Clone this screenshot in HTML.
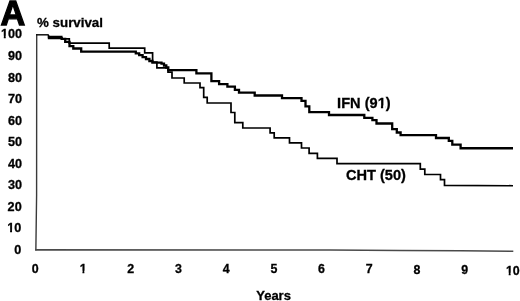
<!DOCTYPE html>
<html>
<head>
<meta charset="utf-8">
<title>Kaplan-Meier survival: IFN vs CHT</title>
<style>
html,body{margin:0;padding:0;background:#fff;}
body{width:520px;height:301px;overflow:hidden;}
svg{display:block;will-change:transform;}
text{font-family:"Liberation Sans",sans-serif;font-weight:bold;fill:#000;stroke:#000;stroke-width:0.3px;}
</style>
</head>
<body>
<svg width="520" height="301" viewBox="0 0 520 301">
<rect width="520" height="301" fill="#fff"/>
<text style="stroke-width:1.3px" transform="translate(0.60,24.60) scale(0.965,1)" font-size="35.5">A</text>
<text transform="translate(37.10,27.00) scale(1,1)" font-size="13.3">% survival</text>
<text transform="translate(22.05,38.00) scale(0.96,1.0)" font-size="13.2" text-anchor="end">100</text>
<text transform="translate(22.05,60.00) scale(0.96,1.0)" font-size="13.2" text-anchor="end">90</text>
<text transform="translate(22.05,82.00) scale(0.96,1.0)" font-size="13.2" text-anchor="end">80</text>
<text transform="translate(22.05,103.00) scale(0.96,1.0)" font-size="13.2" text-anchor="end">70</text>
<text transform="translate(22.05,125.00) scale(0.96,1.0)" font-size="13.2" text-anchor="end">60</text>
<text transform="translate(22.05,146.00) scale(0.96,1.0)" font-size="13.2" text-anchor="end">50</text>
<text transform="translate(22.05,168.00) scale(0.96,1.0)" font-size="13.2" text-anchor="end">40</text>
<text transform="translate(22.05,189.00) scale(0.96,1.0)" font-size="13.2" text-anchor="end">30</text>
<text transform="translate(21.70,211.00) scale(0.96,1.0)" font-size="13.2" text-anchor="end">20</text>
<text transform="translate(21.30,232.00) scale(0.96,1.0)" font-size="13.2" text-anchor="end">10</text>
<text transform="translate(21.20,254.00) scale(0.96,1.0)" font-size="13.2" text-anchor="end">0</text>
<text transform="translate(35.25,273.00) scale(0.94,1.0)" font-size="13.2" text-anchor="middle">0</text>
<text transform="translate(83.10,273.00) scale(0.94,1.0)" font-size="13.2" text-anchor="middle">1</text>
<text transform="translate(130.69,273.00) scale(0.94,1.0)" font-size="13.2" text-anchor="middle">2</text>
<text transform="translate(178.41,273.00) scale(0.94,1.0)" font-size="13.2" text-anchor="middle">3</text>
<text transform="translate(226.13,273.00) scale(0.94,1.0)" font-size="13.2" text-anchor="middle">4</text>
<text transform="translate(273.85,273.00) scale(0.94,1.0)" font-size="13.2" text-anchor="middle">5</text>
<text transform="translate(321.57,273.00) scale(0.94,1.0)" font-size="13.2" text-anchor="middle">6</text>
<text transform="translate(369.29,273.00) scale(0.94,1.0)" font-size="13.2" text-anchor="middle">7</text>
<text transform="translate(417.01,274.00) scale(0.94,1.0)" font-size="13.2" text-anchor="middle">8</text>
<text transform="translate(464.73,274.00) scale(0.94,1.0)" font-size="13.2" text-anchor="middle">9</text>
<text transform="translate(512.80,275.00) scale(0.94,1.0)" font-size="13.2" text-anchor="middle">10</text>
<text transform="translate(256.20,300.00) scale(1,1)" font-size="13.0">Years</text>
<text transform="translate(337.10,108.00) scale(1,1.03)" font-size="14.6">IFN (91)</text>
<text transform="translate(345.90,180.00) scale(1,1.03)" font-size="14.6">CHT (50)</text>
<!-- hide foot of 1 -->
<g transform="translate(22.05,38.00) scale(0.96,1.0)"><rect x="-22.17" y="-2.25" width="3.13" height="3.75" fill="#fff"/><rect x="-16.99" y="-2.25" width="2.96" height="3.75" fill="#fff"/></g>
<g transform="translate(21.30,232.00) scale(0.96,1.0)"><rect x="-14.83" y="-2.25" width="3.13" height="3.75" fill="#fff"/><rect x="-9.65" y="-2.25" width="2.96" height="3.75" fill="#fff"/></g>
<g transform="translate(83.10,273.00) scale(0.94,1.0)"><rect x="-3.84" y="-2.25" width="3.13" height="3.75" fill="#fff"/><rect x="1.34" y="-2.25" width="2.96" height="3.75" fill="#fff"/></g>
<g transform="translate(512.80,275.00) scale(0.94,1.0)"><rect x="-7.50" y="-2.25" width="3.13" height="3.75" fill="#fff"/><rect x="-2.32" y="-2.25" width="2.96" height="3.75" fill="#fff"/></g>
<g transform="translate(337.10,108.00) scale(1,1.03)"><rect x="40.45" y="-2.39" width="3.37" height="3.89" fill="#fff"/><rect x="46.06" y="-2.39" width="2.68" height="3.89" fill="#fff"/></g>
<!-- axes -->
<path d="M36.7,34 L36.6,195 L35.85,250.4" stroke="#3a3a3a" stroke-width="1.4" fill="none"/>
<path d="M35.2,249.9 L330,249.95 L400,250.5 L461,250.8 L513.3,251.3" stroke="#4a4a4a" stroke-width="1.6" fill="none"/>
<path d="M36,34.8 H48.8" stroke="#111" stroke-width="1.5" fill="none"/>
<!-- CHT (thin) -->
<path d="M48.5,35 V36.6 H61.7 V38.9 H69.3 V43.2 H109.2 V48.2 H144.7 V52.9 H152.6 V62.1 H156.9 V67.9 H168 V72.2 H172 V78 H184.2 V83 H200 V87.6 H203.7 V97.4 H207.2 V103.0 H231 V112.5 H234.8 V122.6 H242.8 V128.0 H270.1 V132.9 H274.2 V137.9 H289.5 V142.8 H301.5 V148 H309.1 V153.3 H317.4 V158.3 H337 V163.6 H420.3 V169.2 H424.8 V174.5 H440.5 V179.7 H444.5 V185.35 L513,185.75" stroke="#000" stroke-width="1.7" fill="none"/>
<!-- IFN (thick) -->
<path d="M47.8,38.2 H61.7 V38.8 H65.2 V41.9 H69.5 V46.1 H73.3 V48.5 H81.2 V51.6 H135.8 V53.3 H139.2 V55.2 H142.6 V57.1 H146 V59 H149.4 V61 H152.4 V62.6 H161.5 V63.7 H164 V65.5 H166.3 V67.5 H168.3 V70.2 H196.4 V73.3 H211.4 V81.2 H219.1 V84.1 H227.4 V86.7 H234.9 V89.9 H239 V92.6 H254.7 V95.5 H282 V98.1 H301.5 V100.8 H305.5 V106.3 H309.3 V112.2 H329 V115.0 H364.3 V117.9 H372.4 V120.2 H376.5 V123.5 H392.2 V129.2 H396.8 V132.5 H400.6 V135.1 H436 V138 H448.8 V140.9 H452.3 V144.6 H460.6 V148.25 H513" stroke="#000" stroke-width="2.3" fill="none"/>
</svg>
</body>
</html>
